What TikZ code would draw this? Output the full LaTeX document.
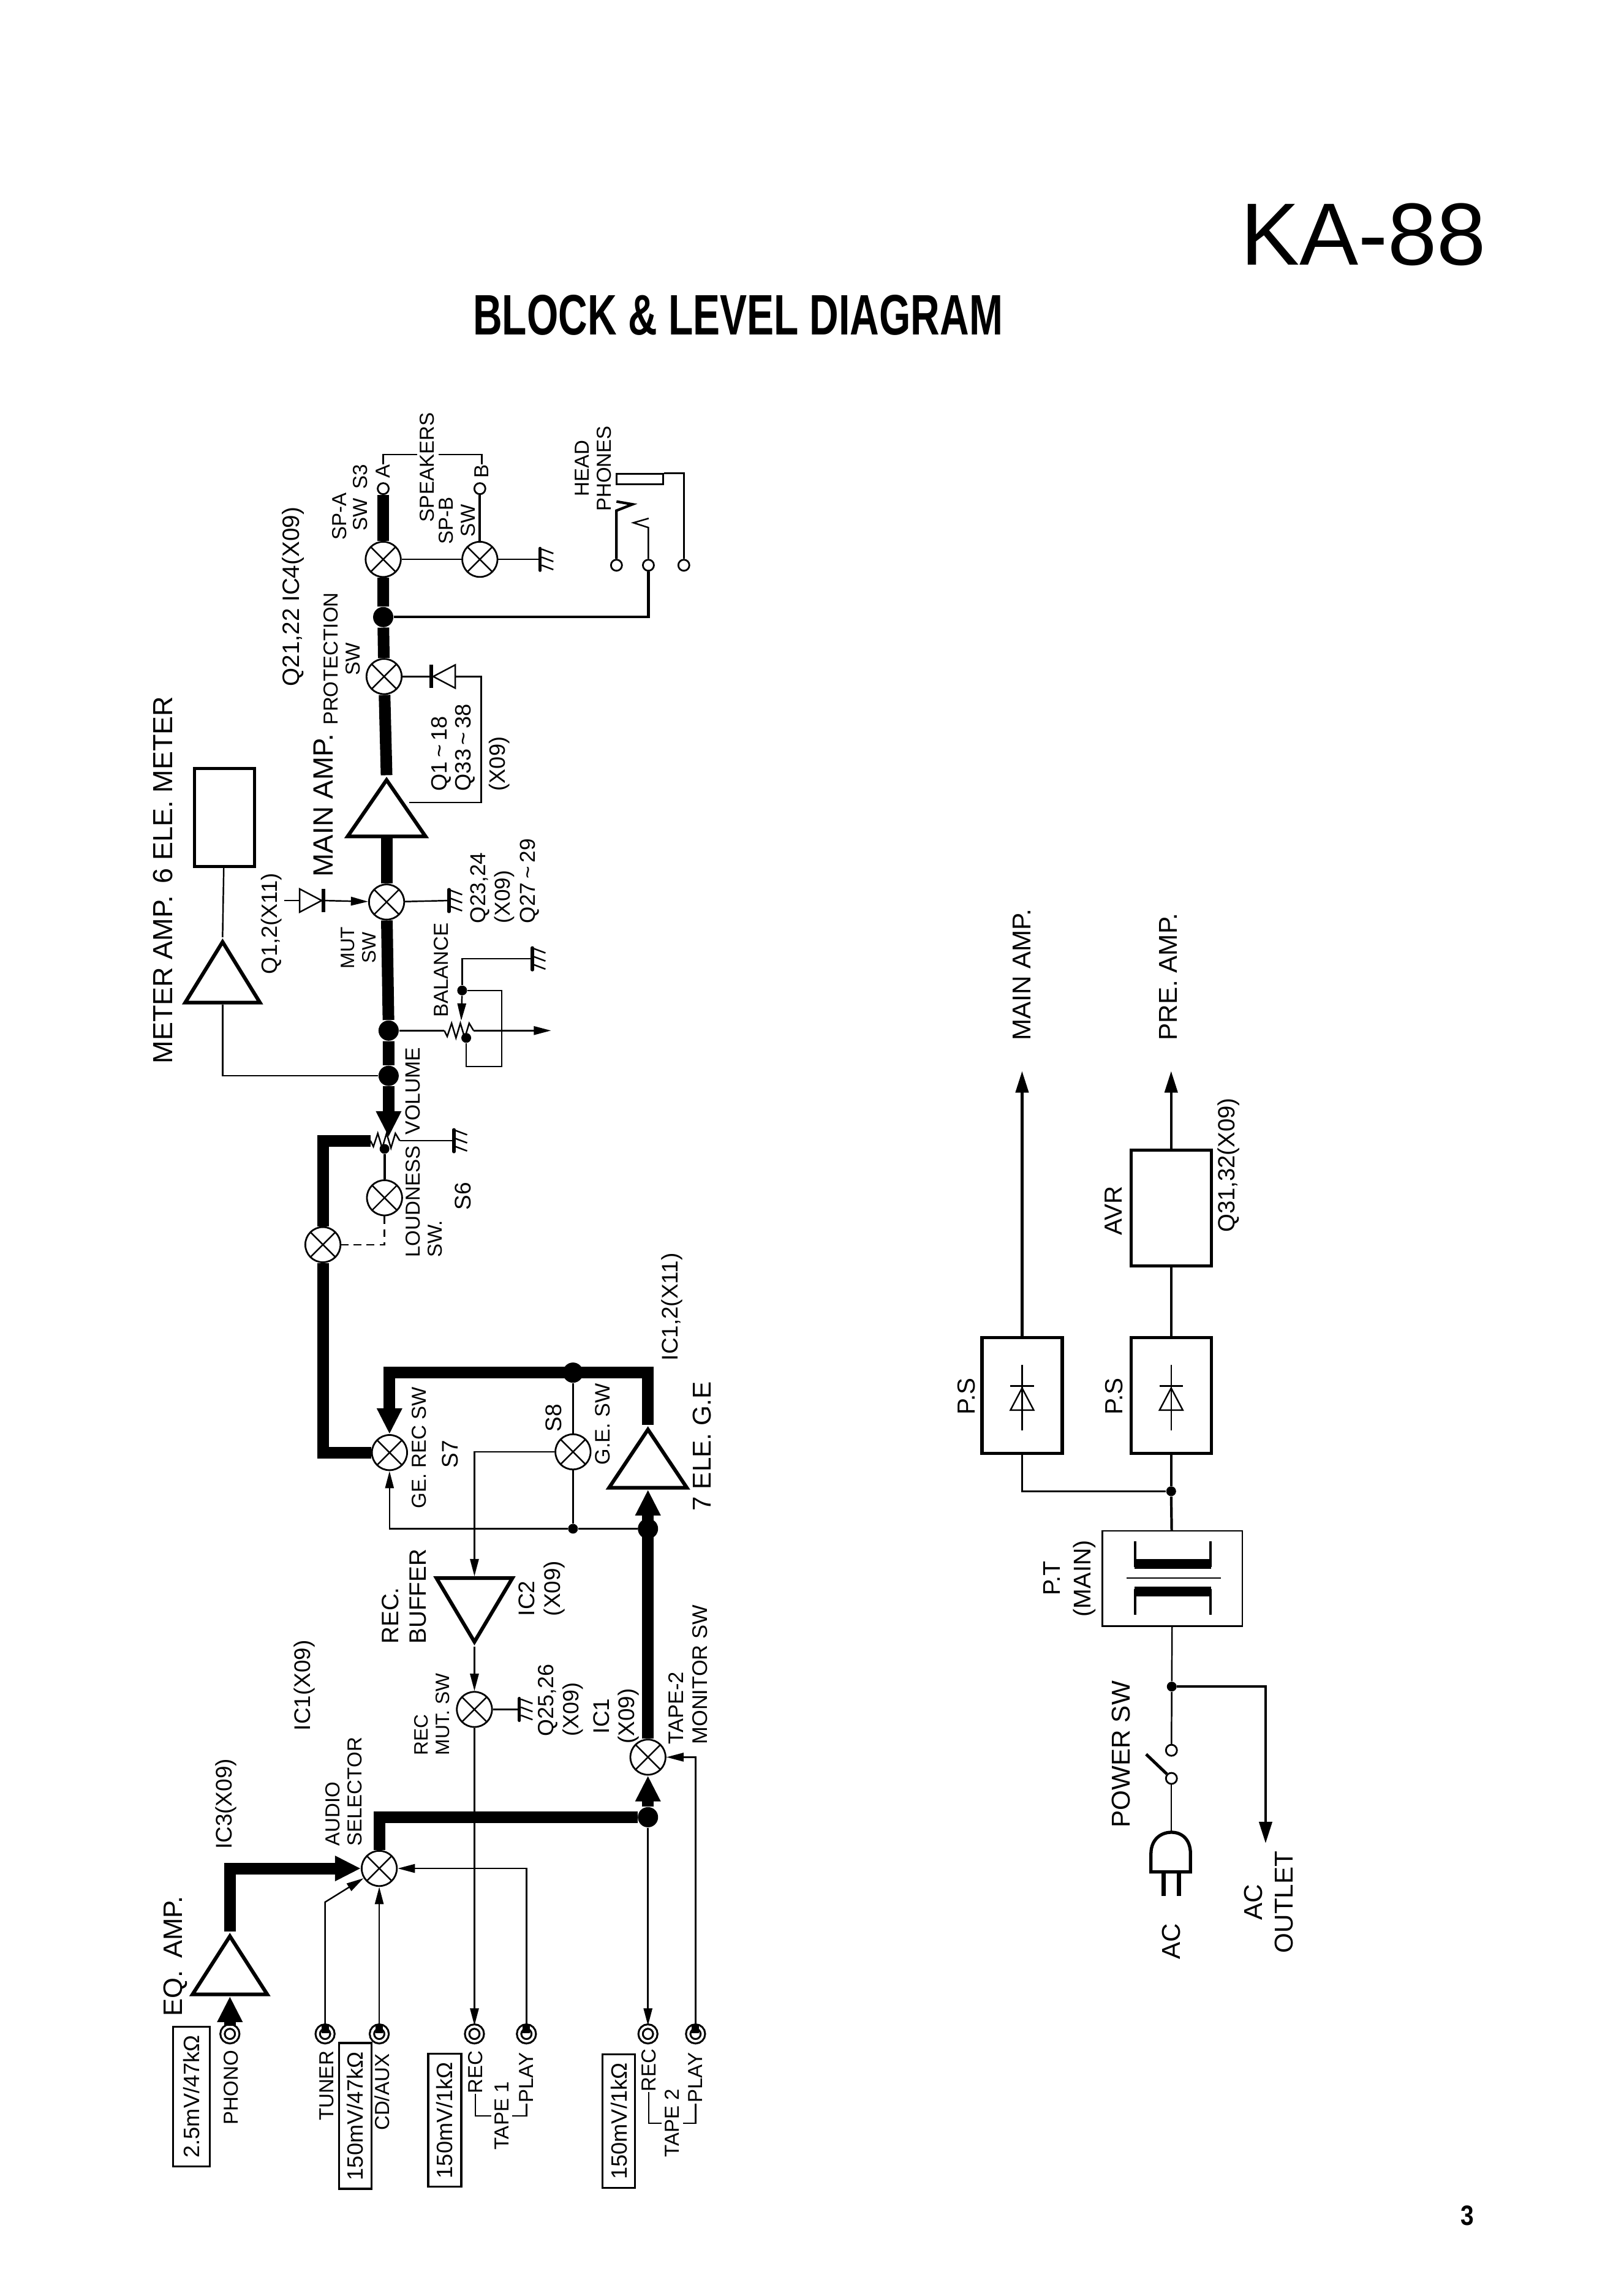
\documentclass[tikz,border=0pt]{standalone}
\usepackage{fontspec}
\setmainfont{Liberation Sans}
\usetikzlibrary{shapes.geometric, arrows.meta}
\newcommand{\labsize}[2]{\fontsize{#1}{#2}\selectfont}
\tikzset{
    gnd/.pic={
        \draw[line width=1.5pt, line cap=round] (0,-7.5) -- (0,7.5);
        \foreach \dy in {-5.5,0,5.5} \draw[line width=.7pt] (1,\dy-1.5) -- (9,\dy+1.5);
    },
    zigzag/.pic={
        \draw[line width=.7pt] (0,0) -- (2,4) -- (5,-5) -- (8,5) -- (11,-5) -- (14,5) -- (17,-5) -- (20,0);
    }
}
\begin{document}
\begin{tikzpicture}[
    x=0.023895cm, y=-0.023895cm,
    wire/.style={line width=.7pt},
    wireb/.style={line width=1.2pt},
    sig/.style={line width=5.4pt},
    tip/.style={wire, -{Triangle[length=8pt,width=4pt]}},
    sigtip/.style={sig, -{Triangle[length=12pt,width=11pt]}},
    powertip/.style={wireb, -{Triangle[length=10pt,width=6pt]}},
    mixer/.style={circle, draw, line width=.8pt, fill=white, inner sep=0, minimum size=.574cm,
        path picture={\draw[line width=.7pt] (path picture bounding box.north west) -- (path picture bounding box.south east)
            (path picture bounding box.north east) -- (path picture bounding box.south west);}},
    jack/.style={circle, draw, double, double distance=1.1pt, line width=.9pt, inner sep=0, minimum size=.24cm},
    term/.style={circle, draw, line width=.8pt, fill=white, inner sep=0, minimum size=.18cm},
    amp/.style={isosceles triangle, isosceles triangle stretches, shape border rotate=90, draw, line width=1.7pt,
        inner sep=0, minimum width=1.22cm, minimum height=.95cm, anchor=apex},
    diode/.style={isosceles triangle, isosceles triangle stretches, draw, line width=.7pt,
        inner sep=0, minimum width=.38cm, minimum height=.36cm, anchor=apex},
    block/.style={draw, line width=1.5pt, inner sep=0, minimum width=1.31cm, minimum height=1.89cm},
    bigjct/.style={circle, fill, inner sep=0, minimum size=.33cm},
    jct/.style={circle, fill, inner sep=0, minimum size=.16cm},
    levelbox/.style={rotate=90, draw, line width=.9pt, inner sep=0, font=\labsize{10.3}{12}},
    labs/.style={rotate=90, inner sep=0, align=left, font=\labsize{9.4}{10.3}},
    labm/.style={rotate=90, inner sep=0, align=left, font=\labsize{10.5}{11.7}},
    labl/.style={rotate=90, inner sep=0, align=left, font=\labsize{12.4}{14}}
]
\useasboundingbox (0,0) rectangle (1109,1568);

\node[font=\labsize{41}{44}] (title) at (931,160) {KA-88};
\node[font=\labsize{26.5}{30}\bfseries] (heading) at (504,215) {\scalebox{.708}[1]{BLOCK \& LEVEL DIAGRAM}};
\node[font=\labsize{13}{15}\bfseries] (pageno) at (1002,1513) {\scalebox{.85}[1]{3}};

% inputs
\node[jack] (phono) at (157,1389) {};
\node[jack] (tuner) at (222,1389) {};
\node[jack] (cdaux) at (259,1389) {};
\node[jack] (tarec) at (324,1389) {};
\node[jack] (taplay) at (359.5,1389) {};
\node[jack] (tbrec) at (442.5,1389) {};
\node[jack] (tbplay) at (475,1389) {};
\foreach \jk in {tuner, cdaux, taplay, tbplay}
    \draw[line width=3.4pt] (\jk.center) ++(0,-.5) -- ++(0,-5.5);
\node[levelbox, minimum width=2.28cm, minimum height=.6cm] (lvphono) at (130.8,1431.7) {2.5mV/47kΩ};
\node[levelbox, minimum width=2.38cm, minimum height=.53cm] (lvaux) at (242.5,1445) {150mV/47kΩ};
\node[levelbox, minimum width=2.17cm, minimum height=.54cm] (lvta) at (303.7,1448) {150mV/1kΩ};
\node[levelbox, minimum width=2.18cm, minimum height=.53cm] (lvtb) at (422.6,1448.6) {150mV/1kΩ};
\node[labs] (lphono) at (157.7,1425.6) {PHONO};
\node[labs] (ltuner) at (223,1424.5) {TUNER};
\node[labs] (lcd) at (260.8,1428.8) {CD/AUX};
\node[labs] (ltarec) at (324.6,1415) {REC};
\node[labs] (ltaplay) at (359.5,1419) {PLAY};
\node[labs, inner sep=1.5pt] (ltape1) at (342.6,1445) {TAPE 1};
\node[labs] (ltbrec) at (443,1413.8) {REC};
\node[labs] (ltbplay) at (475,1419) {PLAY};
\node[labs, inner sep=1.5pt] (ltape2) at (459,1450) {TAPE 2};
\draw[wire] (ltarec.west) |- (ltape1.north);
\draw[wire] (ltaplay.west) |- (ltape1.south);
\draw[wire] (ltbrec.west) |- (ltape2.north);
\draw[wire] (ltbplay.west) |- (ltape2.south);

% eq amp and selector
\node[amp] (eqamp) at (157,1319) {};
\node[mixer] (selector) at (259,1276) {};
\node[mixer] (tapesw) at (442.5,1200) {};
\node[bigjct] (selj) at (442.5,1241) {};
\coordinate (tunerbend) at (222,1299);
\draw[sigtip] (phono) -- (eqamp.lower side);
\draw[sigtip] (eqamp.apex) |- (selector);
\draw[tip] (tuner) -- (tunerbend) -- (selector);
\draw[tip] (cdaux) -- (selector);
\draw[tip] (taplay) |- (selector);
\draw[sig] (selector) |- (selj);
\draw[sigtip] (selj) -- (tapesw);
\draw[tip] (selj) -- (tbrec);
\draw[tip] (tbplay) |- (tapesw);
\node[labl] (leq) at (120,1336) {EQ. \,AMP.};
\node[labm] (lic3) at (154.4,1232) {IC3(X09)};
\node[labs, anchor=west] (lsel) at (234.7,1261) {AUDIO\\SELECTOR};
\node[labm] (lic1a) at (208,1151) {IC1(X09)};

% record path
\node[mixer] (recmut) at (324,1167.4) {};
\node[amp, shape border rotate=-90, minimum width=1.24cm, minimum height=1.04cm] (recbuf) at (324,1124.5) {};
\node[mixer] (s8sw) at (391.3,991.5) {};
\node[mixer] (gerec) at (266,992) {};
\node[amp, minimum width=1.27cm] (geamp) at (442.5,973) {};
\node[jct] (gej) at (391.3,1044) {};
\node[bigjct] (gein) at (442.5,1044) {};
\node[bigjct] (geoutj) at (391.3,937.4) {};
\coordinate (getop) at (442.5,937.4);
\coordinate (s8bend) at (324,991.5);
\coordinate (gndrec) at (354.7,1167.4);
\draw[sigtip] (tapesw) -- (geamp.lower side);
\draw[sigtip] (geamp.apex) -- (getop) -| (gerec);
\draw[wire] (geoutj) -- (s8sw);
\draw[wire] (s8sw) -- (gej);
\draw[wire] (gein) -- (gej);
\draw[tip] (gej) -| (gerec);
\draw[tip] (s8sw) -- (s8bend) -- (recbuf.lower side);
\draw[tip] (recbuf.apex) -- (recmut);
\draw[tip] (recmut) -- (tarec);
\draw[wire] (recmut) -- (gndrec);
\pic at (gndrec) {gnd};
\node[labl, font=\labsize{11}{13}, anchor=west] (lbuf) at (276,1123) {REC.\\BUFFER};
\node[labs, font=\labsize{9}{10}, anchor=west] (lmut) at (295,1199) {REC\\MUT. SW};
\node[labm, font=\labsize{10.2}{11.7}, anchor=west] (lq25) at (383,1186) {Q25,26\\(X09)};
\node[labm, anchor=west] (lic2) at (370,1104) {IC2\\(X09)};
\node[labm, align=center] (lic1b) at (421,1172) {IC1\\(X09)};
\node[labs, font=\labsize{9.8}{11}, anchor=west] (ltape) at (470,1191.5) {TAPE-2\\MONITOR SW};
\node[labs] (lgerec) at (286,988.7) {GE. REC SW};
\node[labm] (ls7) at (307.6,993) {S7};
\node[labm] (ls8) at (378.2,968.4) {S8};
\node[labs, font=\labsize{9.7}{11}] (lgesw) at (411.4,972.6) {G.E. SW};
\node[labl, font=\labsize{12}{14}] (l7ele) at (479.3,987.6) {7 ELE. G.E};
\node[labm] (lic12) at (459,892.5) {IC1,2(X11)};

% volume, balance, meter
\node[mixer] (mixloud) at (220.5,850) {};
\node[mixer] (loudsw) at (262.6,818) {};
\node[jct] (wiper) at (262.6,784.6) {};
\node[bigjct] (jvol) at (265.4,734.7) {};
\node[bigjct] (jbal) at (265.4,703.8) {};
\node[mixer] (mutsw) at (264,616) {};
\node[amp, minimum width=1.27cm, minimum height=.92cm] (mainamp) at (264,529.4) {};
\coordinate (volin) at (253,779);
\coordinate (volout) at (273,779);
\coordinate (gndvol) at (310,779);
\coordinate (voltip) at (265.4,776.5);
\draw[sig] (gerec) -| (mixloud);
\draw[sig] (mixloud) |- (volin);
\pic at (volin) {zigzag};
\draw[wire] (volout) -- (gndvol);
\pic at (gndvol) {gnd};
\draw[sigtip] (jvol) -- (voltip);
\draw[wireb] (wiper) -- (loudsw);
\draw[wire, dash pattern=on 3.5pt off 2.5pt] (loudsw) |- (mixloud);
\draw[sig] (jvol) -- (jbal) -- (mutsw);
\draw[sig] (mutsw) -- (mainamp.lower side);
\coordinate (balin) at (303.4,703.8);
\coordinate (balout) at (323.4,703.8);
\coordinate (balend) at (376.3,703.8);
\coordinate (balwip) at (315,697);
\coordinate (balbox) at (342.7,676.4);
\coordinate (gndbal) at (363.5,654.8);
\node[jct] (bala) at (315.6,676.4) {};
\node[jct] (balb) at (318.4,708.8) {};
\draw[wire] (jbal) -- (balin);
\pic at (balin) {zigzag};
\draw[tip] (balout) -- (balend);
\draw[tip] (bala) -- (balwip);
\draw[wire] (bala) -- (balbox) |- (balb |- 0,728.4) -- (balb);
\draw[wire] (bala) |- (gndbal);
\pic at (gndbal) {gnd};
\node[amp, minimum width=1.22cm, minimum height=.99cm] (meteramp) at (152,640) {};
\node[draw, line width=1.5pt, inner sep=0, minimum width=.98cm, minimum height=1.6cm] (meter) at (153.4,558.2) {};
\draw[wire] (meteramp.apex) -- (meter);
\draw[wire] (jvol) -| (meteramp.lower side);
\node[diode] (mutdiode) at (221,615) {};
\coordinate (mutin) at (194,615);
\coordinate (gndmut) at (306.6,615);
\draw[wire] (mutin) -- (mutdiode.lower side);
\draw[line width=1.8pt] (mutdiode.apex) ++(0,-8) -- ++(0,16);
\draw[tip] (mutdiode.apex) -- (mutsw);
\draw[wire] (mutsw) -- (gndmut);
\pic at (gndmut) {gnd};
\node[labl, font=\labsize{12.8}{14}] (lmeter) at (111.3,601) {METER AMP. \,6 ELE. METER};
\node[labm, font=\labsize{10.3}{12}] (lq12) at (185.4,630.8) {Q1,2(X11)};
\node[labs, font=\labsize{9}{10}, align=center] (lmutsw) at (245,647.2) {MUT\\SW};
\node[labs] (lbal) at (301.2,662.4) {BALANCE};
\node[labs, font=\labsize{9.6}{11}] (lvol) at (281.9,745) {VOLUME};
\node[labs, anchor=west] (lloud) at (289.5,859) {LOUDNESS\\SW.};
\node[labm] (ls6) at (316.3,817) {S6};
\node[labm, font=\labsize{10}{11.5}, anchor=west] (lq23) at (344.6,630.8) {Q23,24\\(X09)\\Q27\,\textasciitilde\,29};

% output
\node[mixer] (protsw) at (262.3,462) {};
\node[bigjct] (jhp) at (261.7,421.4) {};
\node[mixer] (spasw) at (261.7,382) {};
\node[mixer] (spbsw) at (327.7,382) {};
\node[term] (terma) at (261.7,333.7) {};
\node[term] (termb) at (327.7,333.7) {};
\node[diode, shape border rotate=180] (protdiode) at (294.5,462) {};
\coordinate (prota) at (328.7,462);
\coordinate (protb) at (279.5,548);
\coordinate (gndspk) at (368.9,382);
\draw[sig] (mainamp.apex) -- (protsw);
\draw[sig] (protsw) -- (jhp) -- (spasw);
\draw[sig] (spasw) -- (terma);
\draw[wire] (spasw) -- (spbsw);
\draw[wire] (spbsw) -- (gndspk);
\pic at (gndspk) {gnd};
\draw[wireb] (spbsw) -- (termb);
\draw[wire] (protsw) -- (protdiode.apex);
\draw[line width=1.8pt] (protdiode.apex) ++(0,-8) -- ++(0,16);
\draw[wire] (protdiode.lower side) -- (prota) |- (protb);
\node[term] (hpl) at (421,386) {};
\node[term] (hpm) at (442.8,386) {};
\node[term] (hpr) at (467,386) {};
\node[draw, line width=.9pt, inner sep=0, minimum width=.76cm, minimum height=.17cm] (hpjack) at (436.9,327.3) {};
\draw[wireb] (jhp) -| (hpm);
\draw[wire] (hpm) -- (442.8,360.3) -- (432.6,357) -- (443,354);
\draw[wireb] (hpl) -- (421,348.7) -- (432,344.4) -- (421,342.5);
\draw[wire] (hpr) |- (hpjack.north east);
\node[labs] (la) at (261.7,322) {A};
\node[labs] (lb) at (329,322) {B};
\coordinate (spka) at (285,310.4);
\coordinate (spkb) at (299.5,310.4);
\draw[wire] (la.east) |- (spka);
\draw[wire] (lb.east) |- (spkb);
\node[labs] (lspk) at (291.6,319.2) {SPEAKERS};
\node[labs] (lspa) at (232,352.8) {SP-A};
\node[labs] (lsps) at (246,339.7) {SW \,S3};
\node[labs, align=center] (lspb) at (312,355.6) {SP-B\\SW};
\node[labs, align=center] (lhead) at (405,320) {HEAD\\PHONES};
\node[labs, font=\labsize{11}{13}] (lq21) at (200.3,407.5) {Q21,22 IC4(X09)};
\node[labs, align=center] (lprot) at (233.5,450) {PROTECTION\\SW};
\node[labl, font=\labsize{13}{15}] (lmain) at (221,550) {MAIN AMP.};
\node[labm, font=\labsize{10.3}{11.3}, anchor=west] (lq118) at (309.5,540.5) {Q1\,\textasciitilde\,18\\Q33\,\textasciitilde\,38};
\node[labm, font=\labsize{10.3}{11.3}, anchor=west] (lx09) at (341,540.5) {(X09)};

% power supply
\foreach \psname/\psx in {psa/698, psb/799.8} {
    \node[block] (\psname) at (\psx,953) {};
    \node[diode, shape border rotate=90] (\psname d) at (\psx,946.6) {};
    \draw[wire] (\psname d.apex) ++(-8,0) -- ++(16,0);
    \draw[wire] (\psx,932) -- (\psx,977);
}
\node[block] (avr) at (799.8,825) {};
\node[draw, line width=.7pt, inner sep=0, minimum width=2.285cm, minimum height=1.55cm] (ptbox) at (800.6,1078) {};
\draw[line width=4.5pt] (774.8,1068) -- (827,1068);
\draw[line width=1.2pt] (775.3,1070) -- (775.3,1052.4) (826.5,1070) -- (826.5,1052.4);
\draw[line width=4.5pt] (774.8,1087) -- (827,1087);
\draw[line width=1.2pt] (775.3,1085) -- (775.3,1102.7) (826.5,1085) -- (826.5,1102.7);
\draw[line width=.6pt] (769.5,1077.7) -- (833.6,1077.7);
\node[jct] (psj) at (799.8,1018.4) {};
\coordinate (mainend) at (698,731.5);
\coordinate (preend) at (799.8,731.5);
\draw[powertip] (psa) -- (mainend);
\draw[powertip] (avr) -- (preend);
\draw[wireb] (psb) -- (avr);
\draw[wireb] (ptbox) -- (psj);
\draw[wireb] (psj) -- (psb);
\draw[wire] (psj) -| (psa);
\node[jct] (acj) at (800.2,1151.8) {};
\node[term] (swa) at (800,1195.3) {};
\node[term] (swb) at (800,1214.5) {};
\coordinate (lever) at (782.7,1198);
\coordinate (plugtop) at (800,1251.3);
\coordinate (outend) at (864.3,1258.8);
\draw[wire] (ptbox) -- (acj);
\draw[wire] (acj) -- (swa);
\draw[line width=1.4pt] (swb) -- (lever);
\draw[wire] (swb) -- (plugtop);
\draw[powertip] (acj) -| (outend);
\draw[line width=1.5pt] (786,1278.4) -- (786,1266) .. controls (786,1256) and (793,1251.3) .. (plugtop) .. controls (807,1251.3) and (813,1256) .. (813,1266) -- (813,1278.4) -- cycle;
\draw[line width=1.9pt] (794.7,1278.4) -- (794.7,1295) (805,1278.4) -- (805,1295);
\node[labl, font=\labsize{12}{14}] (lmainpw) at (698,665.6) {MAIN AMP.};
\node[labl, font=\labsize{12}{14}] (lprepw) at (798,667) {PRE. AMP.};
\node[labm, font=\labsize{10.9}{13}] (lq31) at (839,795.7) {Q31,32(X09)};
\node[labl, font=\labsize{11.5}{14}] (lpsa) at (660,953.5) {P.S};
\node[labl, font=\labsize{11.5}{14}] (lpsb) at (761,953.5) {P.S};
\node[labl, font=\labsize{11.5}{14}] (lavr) at (760.3,827) {AVR};
\node[labl, font=\labsize{11.2}{14.3}, align=center] (lpt) at (730.5,1078) {P.T\\(MAIN)};
\node[labl, font=\labsize{12}{14}] (lpower) at (765.7,1198) {POWER SW};
\node[labl, font=\labsize{12}{14}] (lac) at (800,1326) {AC};
\node[labl, font=\labsize{12}{14.3}, align=center] (lout) at (866.5,1299) {AC\\OUTLET};
\end{tikzpicture}
\end{document}
